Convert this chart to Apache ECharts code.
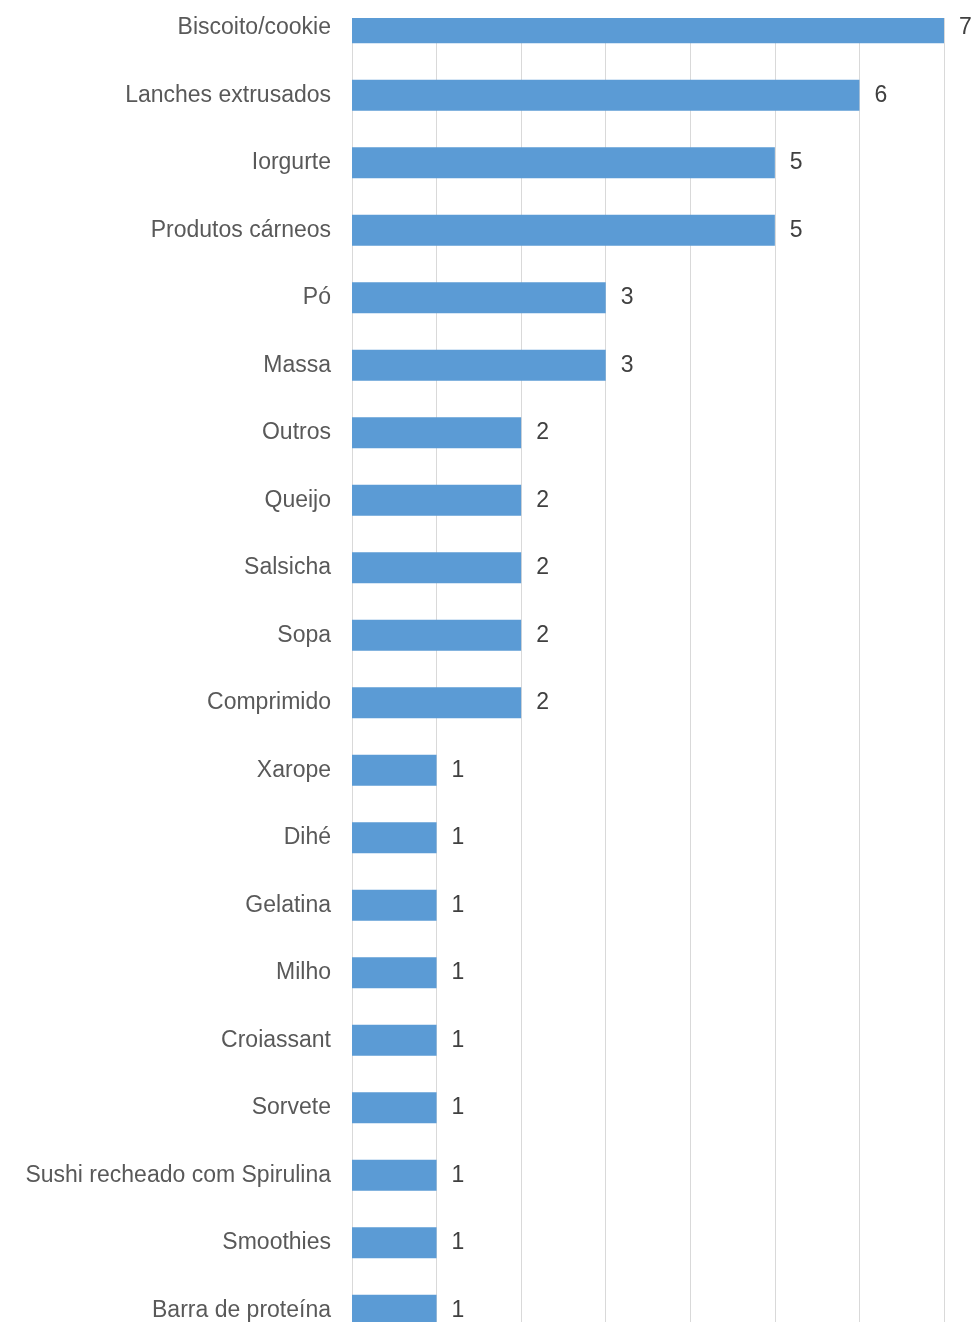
<!DOCTYPE html>
<html>
<head>
<meta charset="utf-8">
<style>
  html, body { margin: 0; padding: 0; background: #fff; }
  #chart { width: 971px; height: 1322px; }
</style>
<script src="https://cdn.jsdelivr.net/npm/echarts@6/dist/echarts.min.js"></script>
</head>
<body>
<div id="chart"></div>
<script>
// categorias, de cima para baixo
var categories = [
  "Biscoito/cookie", "Lanches extrusados", "Iorgurte", "Produtos cárneos", "Pó",
  "Massa", "Outros", "Queijo", "Salsicha", "Sopa",
  "Comprimido", "Xarope", "Dihé", "Gelatina", "Milho",
  "Croiassant", "Sorvete", "Sushi recheado com Spirulina", "Smoothies", "Barra de proteína"
];
var values = [7, 6, 5, 5, 3, 3, 2, 2, 2, 2, 2, 1, 1, 1, 1, 1, 1, 1, 1, 1];
var xTicks = { min: 0, max: 7, interval: 1 };

var chart = echarts.init(document.getElementById('chart'));
var font = '"Liberation Sans", Arial, sans-serif';

chart.setOption({
  animation: false,
  backgroundColor: '#fff',
  grid: { left: 352, right: 27, top: -6, height: 1350, outerBoundsMode: 'none', containLabel: false },
  xAxis: {
    type: 'value',
    min: xTicks.min,
    max: xTicks.max,
    interval: xTicks.interval,
    axisLine: { show: false },
    axisTick: { show: false },
    axisLabel: { show: false },
    splitLine: { lineStyle: { color: '#d9d9d9', width: 1 } }
  },
  yAxis: {
    type: 'category',
    inverse: true,
    data: categories,
    axisLine: { show: false },
    axisTick: { show: false },
    axisLabel: {
      margin: 21,
      color: '#595959',
      fontSize: 23,
      fontFamily: font
    }
  },
  series: [{
    type: 'bar',
    data: values,
    barWidth: 31,
    itemStyle: { color: '#5b9bd5' },
    label: {
      show: true,
      position: 'right',
      distance: 15,
      color: '#404040',
      fontSize: 23,
      fontFamily: font
    }
  }],
  // recorte superior como na imagem original (sem cobrir o rótulo "7")
  graphic: [{
    type: 'rect',
    z: 100,
    shape: { x: 340, y: 0, width: 608, height: 18 },
    style: { fill: '#fff' }
  }]
});
</script>
</body>
</html>
